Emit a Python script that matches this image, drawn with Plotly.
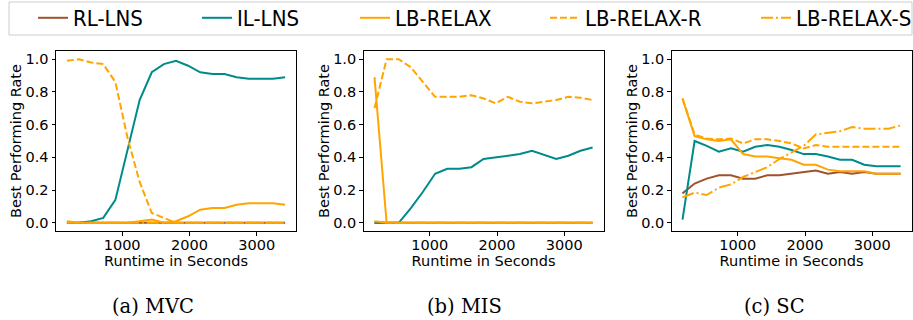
import plotly.graph_objects as go

RUNTIME = [180, 360, 540, 720, 900, 1080, 1260, 1440, 1620, 1800,
           1980, 2160, 2340, 2520, 2700, 2880, 3060, 3240, 3420]

SERIES = ["RL-LNS", "IL-LNS", "LB-RELAX", "LB-RELAX-R", "LB-RELAX-S"]

# (a) MVC
MVC_RL = [0.0, 0.0, 0.0, 0.0, 0.0, 0.0, 0.0, 0.0, 0.0, 0.0,
          0.0, 0.0, 0.0, 0.0, 0.0, 0.0, 0.0, 0.0, 0.0]
MVC_IL = [0.0, 0.0, 0.01, 0.03, 0.14, 0.45, 0.75, 0.92, 0.97, 0.99,
          0.96, 0.92, 0.91, 0.91, 0.89, 0.88, 0.88, 0.88, 0.89]
MVC_LB = [0.01, 0.0, 0.0, 0.0, 0.0, 0.0, 0.01, 0.02, 0.0, 0.01,
          0.04, 0.08, 0.09, 0.09, 0.11, 0.12, 0.12, 0.12, 0.11]
MVC_R = [0.99, 1.0, 0.98, 0.97, 0.86, 0.52, 0.25, 0.06, 0.03, 0.0,
         0.0, 0.0, 0.0, 0.0, 0.0, 0.0, 0.0, 0.0, 0.0]
MVC_S = [0.0, 0.0, 0.0, 0.0, 0.0, 0.0, 0.0, 0.0, 0.0, 0.0,
         0.0, 0.0, 0.0, 0.0, 0.0, 0.0, 0.0, 0.0, 0.0]

# (b) MIS
MIS_RL = [0.0, 0.0, 0.0, 0.0, 0.0, 0.0, 0.0, 0.0, 0.0, 0.0,
          0.0, 0.0, 0.0, 0.0, 0.0, 0.0, 0.0, 0.0, 0.0]
MIS_IL = [0.0, 0.0, 0.0, 0.09, 0.19, 0.30, 0.33, 0.33, 0.34, 0.39,
          0.40, 0.41, 0.42, 0.44, 0.415, 0.39, 0.41, 0.44, 0.46]
MIS_LB = [0.89, 0.0, 0.0, 0.0, 0.0, 0.0, 0.0, 0.0, 0.0, 0.0,
          0.0, 0.0, 0.0, 0.0, 0.0, 0.0, 0.0, 0.0, 0.0]
MIS_R = [0.70, 1.0, 1.0, 0.95, 0.86, 0.77, 0.77, 0.77, 0.78, 0.76,
         0.73, 0.77, 0.74, 0.73, 0.74, 0.75, 0.77, 0.765, 0.75]
MIS_S = [0.01, 0.0, 0.0, 0.0, 0.0, 0.0, 0.0, 0.0, 0.0, 0.0,
         0.0, 0.0, 0.0, 0.0, 0.0, 0.0, 0.0, 0.0, 0.0]

# (c) SC
SC_RL = [0.18, 0.24, 0.27, 0.29, 0.29, 0.27, 0.27, 0.29, 0.29, 0.30,
         0.31, 0.32, 0.30, 0.31, 0.30, 0.31, 0.30, 0.30, 0.30]
SC_IL = [0.02, 0.50, 0.47, 0.435, 0.455, 0.435, 0.465, 0.475, 0.465, 0.445,
         0.42, 0.42, 0.405, 0.385, 0.385, 0.355, 0.345, 0.345, 0.345]
SC_LB = [0.76, 0.53, 0.51, 0.50, 0.51, 0.42, 0.405, 0.405, 0.395, 0.385,
         0.355, 0.355, 0.325, 0.315, 0.315, 0.315, 0.30, 0.30, 0.30]
SC_R = [0.76, 0.54, 0.515, 0.51, 0.515, 0.485, 0.51, 0.51, 0.50, 0.485,
        0.455, 0.475, 0.465, 0.465, 0.465, 0.465, 0.465, 0.465, 0.465]
SC_S = [0.155, 0.185, 0.17, 0.215, 0.235, 0.28, 0.31, 0.34, 0.39, 0.43,
        0.47, 0.54, 0.55, 0.56, 0.585, 0.575, 0.575, 0.575, 0.595]

PANELS = [
    ("(a) MVC", [MVC_RL, MVC_IL, MVC_LB, MVC_R, MVC_S]),
    ("(b) MIS", [MIS_RL, MIS_IL, MIS_LB, MIS_R, MIS_S]),
    ("(c) SC", [SC_RL, SC_IL, SC_LB, SC_R, SC_S]),
]

COLORS = ["#A0522D", "#008B8B", "#FFA500", "#FFA500", "#FFA500"]
DASHES = ["solid", "solid", "solid", "7px,3px", "12px,3px,2px,3px"]

W, H = 913, 320
XDOM = [(56, 296), (363.6, 603.5), (671.6, 911.5)]
YDOM = (51, 231)
CAP_X = [153, 464, 774]
TXT_X = [73, 237, 395, 585, 796]  # legend text starts (px)

fig = go.Figure()
TICKFONT = dict(family="DejaVu Sans", size=14.5, color="black")

for p, (cap, data) in enumerate(PANELS):
    ax = "" if p == 0 else str(p + 1)
    for s, name in enumerate(SERIES):
        leg = "legend" if s == 0 else "legend" + str(s + 1)
        fig.add_trace(go.Scatter(
            x=RUNTIME, y=data[s], mode="lines", name=name,
            line=dict(color=COLORS[s], width=2, dash=DASHES[s]),
            xaxis="x" + ax, yaxis="y" + ax,
            showlegend=(p == 0), legend=leg,
        ))
    x0, x1 = XDOM[p]
    common = dict(showline=True, mirror=True, linecolor="black", linewidth=1,
                  ticks="outside", ticklen=3.5, tickwidth=1, tickcolor="black",
                  showgrid=False, zeroline=False, tickfont=TICKFONT)
    fig.update_layout(**{
        "xaxis" + ax: dict(domain=[x0 / W, x1 / W], range=[18, 3582],
                           tickvals=[1000, 2000, 3000], anchor="y" + ax,
                           ticklabelstandoff=-3,
                           title=dict(text="Runtime in Seconds", standoff=0,
                                      font=TICKFONT), **common),
        "yaxis" + ax: dict(domain=[1 - YDOM[1] / H, 1 - YDOM[0] / H],
                           range=[-0.05, 1.05],
                           tickvals=[0, 0.2, 0.4, 0.6, 0.8, 1.0],
                           tickformat=".1f", anchor="x" + ax,
                           title=dict(text="Best Performing Rate", standoff=0,
                                      font=TICKFONT), **common),
    })
    fig.add_annotation(text=cap, x=CAP_X[p] / W, y=1 - 306 / H,
                       xref="paper", yref="paper", showarrow=False,
                       xanchor="center", yanchor="middle",
                       font=dict(family="DejaVu Serif", size=19.5, color="black"))

legends = {}
for s in range(5):
    key = "legend" if s == 0 else "legend" + str(s + 1)
    legends[key] = dict(x=(TXT_X[s] - 40) / W, y=1 - 18 / H, xanchor="left",
                        yanchor="middle", bgcolor="rgba(0,0,0,0)",
                        borderwidth=0,
                        font=dict(family="DejaVu Sans Condensed, Liberation Sans Narrow, DejaVu Sans",
                                  size=22, color="black"))

fig.add_shape(type="rect", xref="paper", yref="paper",
              x0=9 / W, x1=912 / W, y0=1 - 35 / H, y1=1 - 2 / H,
              line=dict(color="#cccccc", width=1), fillcolor="rgba(0,0,0,0)")

fig.update_layout(width=W, height=H,
                  margin=dict(l=0, r=0, t=0, b=0, autoexpand=False),
                  paper_bgcolor="white", plot_bgcolor="white", **legends)

fig.write_html("out.html")
